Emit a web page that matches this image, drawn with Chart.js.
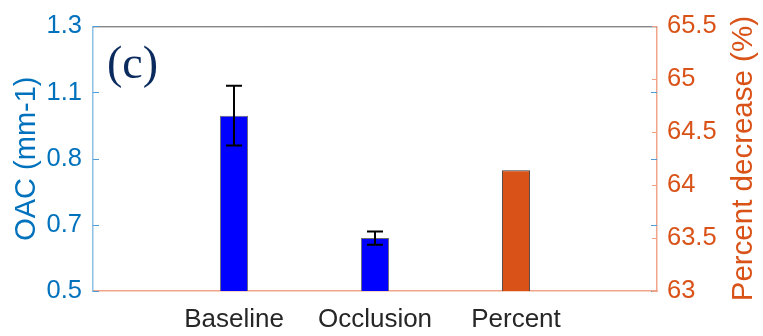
<!DOCTYPE html>
<html>
<head>
<meta charset="utf-8">
<script src="https://cdn.jsdelivr.net/npm/chart.js@4/dist/chart.umd.min.js"></script>
<style>
  html, body { margin: 0; padding: 0; background: #ffffff; }
  #wrap { width: 763px; height: 336px; position: relative; }
</style>
</head>
<body>
<div id="wrap"><canvas id="c" width="763" height="336"></canvas></div>
<script>
// ---- data ----
const categories = ['Baseline', 'Occlusion', 'Percent'];
const oacMean = [1.03, 0.66, null];
const oacError = [0.09, 0.02, null];
const percentDecrease = [null, null, 64.14];
const leftTickValues = [0.5, 0.7, 0.9, 1.1, 1.3];
const leftTickLabels = ['0.5', '0.7', '0.8', '1.1', '1.3'];
const rightTickValues = [63, 63.5, 64, 64.5, 65, 65.5];
const rightTickLabels = ['63', '63.5', '64', '64.5', '65', '65.5'];
const panelLabel = '(c)';
const leftTitle = 'OAC (mm-1)';
const rightTitle = 'Percent decrease (%)';

// x slots: empty slot at each end (axis runs 0..4)
const xLabels = [''].concat(categories, ['']);
const pad = a => [null].concat(a, [null]);

const BLUE = '#0072BD';
const ORANGE = '#D95319';
const SANS = '"Liberation Sans", Arial, sans-serif';

const extras = {
  id: 'extras',
  afterDatasetsDraw(chart) {
    const ctx = chart.ctx;
    const area = chart.chartArea;
    const x = chart.scales.x, yL = chart.scales.yL, yR = chart.scales.yR;
    ctx.save();
    // error bars
    ctx.strokeStyle = '#000000';
    ctx.lineWidth = 2;
    oacMean.forEach((m, i) => {
      if (m == null || oacError[i] == null) return;
      const px = x.getPixelForValue(i + 1);
      const yt = yL.getPixelForValue(m + oacError[i]);
      const yb = yL.getPixelForValue(m - oacError[i]);
      ctx.beginPath();
      ctx.moveTo(px, yt); ctx.lineTo(px, yb);
      ctx.moveTo(px - 8, yt); ctx.lineTo(px + 8, yt);
      ctx.moveTo(px - 8, yb); ctx.lineTo(px + 8, yb);
      ctx.stroke();
    });
    // top box line
    ctx.lineWidth = 1;
    ctx.strokeStyle = '#555555';
    ctx.beginPath();
    ctx.moveTo(area.left, area.top + 0.5);
    ctx.lineTo(area.right, area.top + 0.5);
    ctx.stroke();
    // inward tick marks
    ctx.strokeStyle = '#4f9bd4';
    leftTickValues.forEach(v => {
      const py = Math.round(yL.getPixelForValue(v)) + 0.5;
      ctx.beginPath();
      ctx.moveTo(area.left, py); ctx.lineTo(area.left + 6, py);
      ctx.moveTo(area.right, py); ctx.lineTo(area.right - 6, py);
      ctx.stroke();
    });
    ctx.strokeStyle = '#f0a080';
    rightTickValues.forEach(v => {
      const py = Math.round(yR.getPixelForValue(v)) + 0.5;
      ctx.beginPath();
      ctx.moveTo(area.right, py); ctx.lineTo(area.right - 5, py);
      ctx.stroke();
    });
    // right axis title (reads bottom-to-top)
    ctx.save();
    ctx.translate(yR.right - 19, (area.top + area.bottom) / 2);
    ctx.rotate(-Math.PI / 2);
    ctx.fillStyle = ORANGE;
    ctx.font = '29.5px ' + SANS;
    ctx.textAlign = 'center';
    ctx.textBaseline = 'middle';
    ctx.fillText(rightTitle, 0, 0);
    ctx.restore();
    // panel label
    ctx.fillStyle = '#0b2a5e';
    ctx.font = '46px "Liberation Serif", "Times New Roman", serif';
    ctx.textAlign = 'left';
    ctx.textBaseline = 'alphabetic';
    ctx.fillText(panelLabel, area.left + 14, area.top + 52);
    ctx.restore();
  }
};

new Chart(document.getElementById('c'), {
  type: 'bar',
  data: {
    labels: xLabels,
    datasets: [
      {
        label: 'OAC',
        data: pad(oacMean),
        yAxisID: 'yL',
        backgroundColor: '#0000FF',
        borderColor: '#6b6b6b',
        borderWidth: 1,
        borderSkipped: 'start',
        grouped: false,
        barPercentage: 0.2,
        categoryPercentage: 1
      },
      {
        label: 'Percent decrease',
        data: pad(percentDecrease),
        yAxisID: 'yR',
        backgroundColor: ORANGE,
        borderColor: '#3a3a3a',
        borderWidth: 1,
        borderSkipped: 'start',
        grouped: false,
        barPercentage: 0.2,
        categoryPercentage: 1
      }
    ]
  },
  options: {
    responsive: false,
    animation: false,
    layout: { padding: { top: 23, left: 0, right: 0, bottom: 0 } },
    plugins: { legend: { display: false }, tooltip: { enabled: false } },
    scales: {
      x: {
        type: 'category',
        offset: false,
        grid: { display: true, drawOnChartArea: false, drawTicks: false },
        border: { display: true, color: '#f3a58b', width: 1.5 },
        ticks: {
          color: '#262626',
          font: { family: SANS, size: 26 },
          padding: 13,
          maxRotation: 0,
          autoSkip: false
        },
        afterFit(s) { s.height = 45; }
      },
      yL: {
        type: 'linear',
        position: 'left',
        min: 0.5,
        max: 1.3,
        grid: { display: true, drawOnChartArea: false, drawTicks: false },
        border: { display: true, color: '#8dc0e6', width: 1.5 },
        afterBuildTicks(s) { s.ticks = leftTickValues.map(v => ({ value: v })); },
        ticks: {
          color: BLUE,
          font: { family: SANS, size: 25.5 },
          padding: 11,
          callback(v, i) { return leftTickLabels[i]; }
        },
        title: {
          display: true,
          text: leftTitle,
          color: BLUE,
          font: { family: SANS, size: 29, lineHeight: 1 },
          padding: { top: 12, bottom: 0 }
        },
        afterFit(s) { s.width = 93; }
      },
      yR: {
        type: 'linear',
        position: 'right',
        min: 63,
        max: 65.5,
        grid: { display: true, drawOnChartArea: false, drawTicks: false },
        border: { display: true, color: '#f3a58b', width: 1.5 },
        afterBuildTicks(s) { s.ticks = rightTickValues.map(v => ({ value: v })); },
        ticks: {
          color: ORANGE,
          font: { family: SANS, size: 25.5 },
          padding: 10,
          callback(v, i) { return rightTickLabels[i]; }
        },
        title: { display: false },
        afterFit(s) { s.width = 106; }
      }
    }
  },
  plugins: [extras]
});
</script>
</body>
</html>
